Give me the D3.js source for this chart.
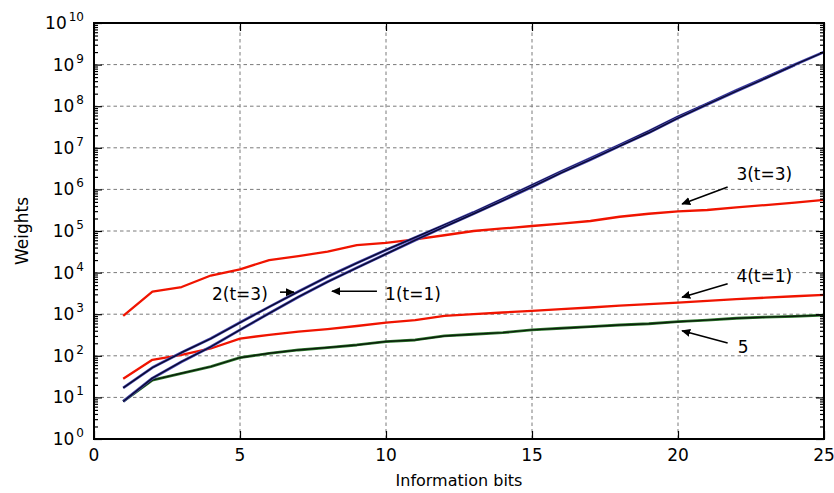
<!DOCTYPE html>
<html>
<head>
<meta charset="utf-8">
<script src="https://cdn.jsdelivr.net/npm/d3@7"></script>
<style>
  body { margin: 0; background: #fff; }
  svg { display: block; font-family: "DejaVu Sans", sans-serif; }
</style>
</head>
<body>
<div id="chart"></div>
<script>
// information bits on x, weights on a log y axis
const bits = d3.range(1, 26);

const w2 = [17, 52, 120, 260, 630, 1500, 3500, 8000, 17000, 35000, 70000, 1.4e5, 2.8e5, 5.9e5,
  1.26e6, 2.7e6, 5.6e6, 1.17e7, 2.5e7, 5.6e7, 1.15e8, 2.4e8, 4.9e8, 1.0e9, 2.0e9];
const w1 = [8, 29, 72, 165, 420, 1050, 2600, 6000, 13000, 28000, 60000, 1.26e5, 2.6e5, 5.4e5,
  1.15e6, 2.5e6, 5.2e6, 1.1e7, 2.3e7, 5.2e7, 1.1e8, 2.3e8, 4.7e8, 9.8e8];
const w3 = [910, 3500, 4500, 8500, 12000, 20000, 25000, 32000, 46000, 52000, 63000, 79000, 1.0e5,
  1.15e5, 1.32e5, 1.5e5, 1.74e5, 2.2e5, 2.6e5, 2.95e5, 3.2e5, 3.7e5, 4.2e5, 4.8e5, 5.6e5];
const w4 = [28, 80, 105, 150, 260, 320, 380, 440, 520, 630, 720, 910, 1000, 1100, 1200, 1320,
  1450, 1600, 1740, 1900, 2100, 2300, 2500, 2700, 2900];
const w5 = [8, 26, 38, 55, 90, 115, 138, 158, 182, 220, 240, 300, 330, 360, 420, 460, 500, 550,
  590, 660, 720, 800, 850, 890, 950];

const xTicks = [0, 5, 10, 15, 20, 25];
const yExps = d3.range(0, 11);

// annotations: [label, text x, text y, arrow from x, from y, arrow to x, to y]
const notes = [
  ['3(t=3)', 22.0, 10 ** 6.23, 21.7, 10 ** 6.06, 20.14, 10 ** 5.65],
  ['4(t=1)', 22.0, 10 ** 3.77, 21.7, 10 ** 3.73, 20.14, 10 ** 3.41],
  ['5', 22.05, 10 ** 2.07, 21.7, 10 ** 2.31, 20.14, 10 ** 2.60],
  ['2(t=3)', 4.04, 10 ** 3.34, 6.37, 10 ** 3.53, 6.85, 10 ** 3.53],
  ['1(t=1)', 9.97, 10 ** 3.34, 9.69, 10 ** 3.55, 8.15, 10 ** 3.55]
];

const W = 834, H = 493;
const m = { left: 94, right: 10, top: 23, bottom: 54 };

const svg = d3.select('#chart').append('svg').attr('width', W).attr('height', H);

const x = d3.scaleLinear().domain([0, 25]).range([m.left, W - m.right]);
const y = d3.scaleLog().domain([1, 1e10]).range([H - m.bottom, m.top]);

svg.append('defs').append('marker')
  .attr('id', 'head').attr('viewBox', '0 -5 10 10')
  .attr('refX', 9).attr('refY', 0).attr('markerWidth', 9).attr('markerHeight', 9)
  .attr('markerUnits', 'userSpaceOnUse').attr('orient', 'auto')
  .append('path').attr('d', 'M0,-4.5L10,0L0,4.5Z').attr('fill', '#000');

// grid
const grid = svg.append('g').attr('stroke', '#7a7a7a').attr('stroke-width', 1)
  .attr('stroke-dasharray', '3.5,3');
grid.selectAll('line.gx').data(xTicks.slice(1, -1)).join('line')
  .attr('x1', d => x(d)).attr('x2', d => x(d)).attr('y1', y(1)).attr('y2', y(1e10));
grid.selectAll('line.gy').data(yExps.slice(1, -1)).join('line')
  .attr('x1', x(0)).attr('x2', x(25)).attr('y1', d => y(10 ** d)).attr('y2', d => y(10 ** d));

// lines
const line = d3.line().x(d => x(d[0])).y(d => y(d[1]));
const series = [
  { v: w4, layers: [['#f01400', 2.3]] },
  { v: w3, layers: [['#f01400', 2.3]] },
  { v: w5, layers: [['#2f7a2f', 2.8], ['#0c1f0c', 1.4]] },
  { v: w2, layers: [['#4a4ab4', 2.8], ['#0a0a30', 1.4]] },
  { v: w1, layers: [['#4a4ab4', 2.8], ['#0a0a30', 1.4]] }
];
series.forEach(s => {
  const pts = s.v.map((v, i) => [bits[i], v]);
  s.layers.forEach(([c, sw]) => {
    svg.append('path').datum(pts).attr('d', line)
      .attr('fill', 'none').attr('stroke', c).attr('stroke-width', sw)
      .attr('stroke-linejoin', 'round');
  });
});

// ticks (inward, all four sides)
const minors = [];
yExps.slice(0, -1).forEach(e => d3.range(2, 10).forEach(k => minors.push(k * 10 ** e)));
const majors = yExps.map(e => 10 ** e);

function tickAxis(axis, tr) {
  const g = svg.append('g').attr('transform', tr).call(axis);
  g.select('.domain').remove();
  g.selectAll('line').attr('stroke', '#000').attr('stroke-width', 1.2);
  g.selectAll('text').remove();
  return g;
}
tickAxis(d3.axisLeft(y).tickValues(majors).tickSize(-8), `translate(${x(0)},0)`);
tickAxis(d3.axisLeft(y).tickValues(minors).tickSize(-4), `translate(${x(0)},0)`);
tickAxis(d3.axisRight(y).tickValues(majors).tickSize(-8), `translate(${x(25)},0)`);
tickAxis(d3.axisRight(y).tickValues(minors).tickSize(-4), `translate(${x(25)},0)`);
tickAxis(d3.axisBottom(x).tickValues(xTicks).tickSize(-8), `translate(0,${y(1)})`);
tickAxis(d3.axisTop(x).tickValues(xTicks).tickSize(-8), `translate(0,${y(1e10)})`);

// frame
svg.append('rect')
  .attr('x', x(0)).attr('y', y(1e10))
  .attr('width', x(25) - x(0)).attr('height', y(1) - y(1e10))
  .attr('fill', 'none').attr('stroke', '#000').attr('stroke-width', 2);

// tick labels
svg.append('g').selectAll('text').data(xTicks).join('text')
  .attr('x', d => x(d)).attr('y', y(1) + 22)
  .attr('text-anchor', 'middle').attr('font-size', 17).attr('fill', '#000')
  .text(d => d);

const yl = svg.append('g').selectAll('text').data(yExps).join('text')
  .attr('x', x(0) - 10).attr('y', d => y(10 ** d) + 6)
  .attr('text-anchor', 'end').attr('font-size', 17).attr('fill', '#000');
yl.append('tspan').text('10');
yl.append('tspan').attr('dy', -8).attr('font-size', 12).attr('dx', 2).text(d => d);

// axis titles
svg.append('text')
  .attr('x', (x(0) + x(25)) / 2).attr('y', H - 7)
  .attr('text-anchor', 'middle').attr('font-size', 16).text('Information bits');
svg.append('text')
  .attr('transform', `translate(28,${(y(1) + y(1e10)) / 2}) rotate(-90)`)
  .attr('text-anchor', 'middle').attr('font-size', 17).text('Weights');

// annotations
const ann = svg.append('g');
notes.forEach(([label, tx, ty, ax, ay, hx, hy]) => {
  ann.append('line')
    .attr('x1', x(ax)).attr('y1', y(ay)).attr('x2', x(hx)).attr('y2', y(hy))
    .attr('stroke', '#000').attr('stroke-width', 1.6).attr('marker-end', 'url(#head)');
  ann.append('text').attr('x', x(tx)).attr('y', y(ty))
    .attr('font-size', 17).attr('fill', '#000').text(label);
});
</script>
</body>
</html>
